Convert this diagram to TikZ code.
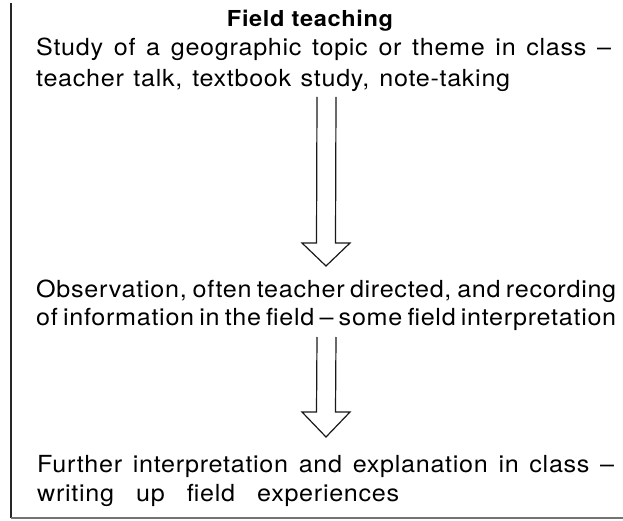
\documentclass[tikz,border=0pt]{standalone}
\usepackage{fontspec}
\setmainfont{TeX Gyre Heros}[FakeStretch=1.07,LetterSpace=3]
\begin{document}
\begin{tikzpicture}[x=1pt,y=-1pt,
  txt/.style={anchor=base west, inner sep=0pt, font=\fontsize{23.5}{28}\selectfont},
  ttl/.style={anchor=base, inner sep=0pt, font=\fontsize{22}{26}\selectfont\bfseries},
  blockarrow/.style={draw=black!90, line width=1.2pt, line join=miter},
  vrule/.style={line width=2pt, draw=black!85},
  hrule/.style={line width=2.5pt, draw=black!55}]
\useasboundingbox (0,0) rectangle (623,521);
% frame
\coordinate (ftop) at (11,3);
\coordinate (fcorner) at (11,518);
\coordinate (fright) at (623,518);
\draw[vrule] (ftop) -- (fcorner);
\draw[hrule] (fcorner) -- (fright);
% texts
\node[ttl] (title) at (310,27) {Field teaching};
\node[txt] (l1) at (36,56) {\makebox[575pt][s]{Study of a geographic topic or theme in class –}};
\node[txt] (l2) at (36,87) {\makebox[474pt][s]{teacher talk, textbook study, note-taking}};
\node[txt] (l3) at (36,297) {\makebox[580pt][s]{Observation, often teacher directed, and recording}};
\node[txt] (l4) at (36,325) {\makebox[580pt][s]{of information in the field – some field interpretation}};
\node[txt] (l5) at (37,472) {\makebox[577pt][s]{Further interpretation and explanation in class –}};
\node[txt] (l6) at (37,501) {\makebox[362pt][s]{writing up field experiences}};
% arrows
\coordinate (a1s) at (326.5,97);
\coordinate (a1t) at (326,266);
\coordinate (a2s) at (326.5,337);
\coordinate (a2t) at (326,437);
\draw[blockarrow] ([xshift=-9.5pt]a1s) -- ([xshift=-9.5pt,yshift=23pt]a1t) -- ([xshift=-24pt,yshift=23pt]a1t) -- (a1t) -- ([xshift=24pt,yshift=23pt]a1t) -- ([xshift=9.5pt,yshift=23pt]a1t) -- ([xshift=9.5pt]a1s);
\draw[blockarrow] ([xshift=-9.5pt]a2s) -- ([xshift=-9.5pt,yshift=25pt]a2t) -- ([xshift=-24pt,yshift=25pt]a2t) -- (a2t) -- ([xshift=24pt,yshift=25pt]a2t) -- ([xshift=9.5pt,yshift=25pt]a2t) -- ([xshift=9.5pt]a2s);
\end{tikzpicture}
\end{document}
